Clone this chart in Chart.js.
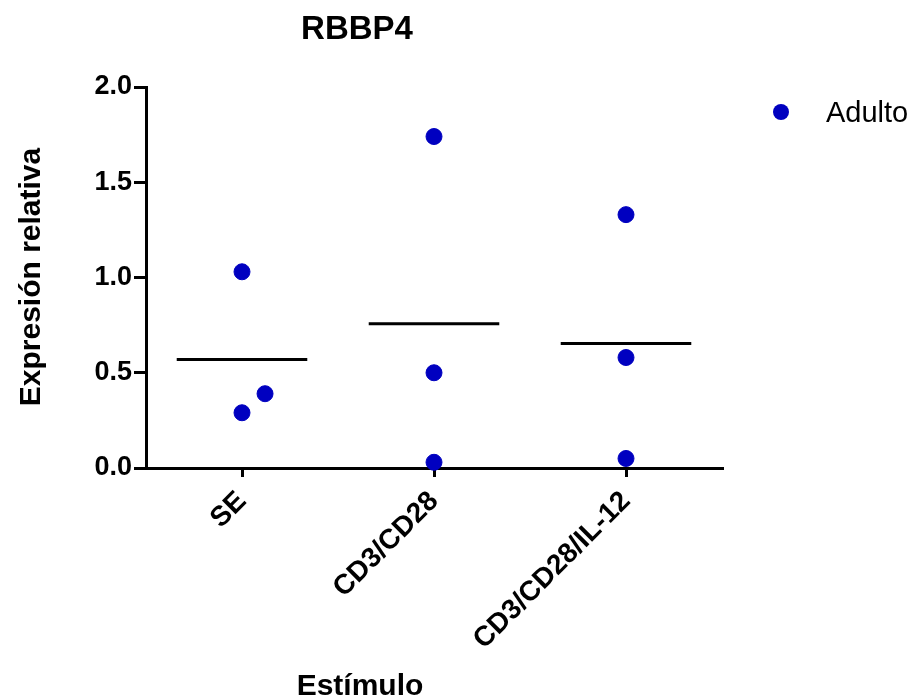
<!DOCTYPE html>
<html>
<head>
<meta charset="utf-8">
<script src="https://cdn.jsdelivr.net/npm/chart.js@4/dist/chart.umd.min.js"></script>
<style>
  html, body { margin: 0; padding: 0; background: #fff; }
  #wrap { width: 911px; height: 700px; }
</style>
</head>
<body>
<div id="wrap"><canvas id="chartRbbp4" width="911" height="700"></canvas></div>
<script>
/* ── Data ─────────────────────────────────────────────── */
const categories = ['SE', 'CD3/CD28', 'CD3/CD28/IL-12'];
const seValues = [1.03, 0.29, 0.39];
const cd3cd28Values = [1.74, 0.50, 0.03];
const il12Values = [1.33, 0.58, 0.05];
// horizontal scatter offsets seen in the picture (in category units)
const jitter = [[0, 0, 0.12], [0, 0, 0], [0, 0, 0]];
const yTicks = [0, 0.5, 1.0, 1.5, 2.0];
const seriesLabel = 'Adulto';

const groups = [seValues, cd3cd28Values, il12Values];
const means = groups.map(g => g.reduce((a, b) => a + b, 0) / g.length);

const FONT = "'Liberation Sans', Arial, sans-serif";
const DOT = '#0000c0';

const points = [];
groups.forEach((g, i) => g.forEach((v, j) => points.push({ x: i + jitter[i][j], y: v })));

const meanLine = [];
means.forEach((m, i) => {
  meanLine.push({ x: i - 0.34, y: m }, { x: i + 0.34, y: m }, { x: i + 0.5, y: NaN });
});

/* ── Titles + legend drawn by hand ───────────────────── */
const textPlugin = {
  id: 'textPlugin',
  afterDraw(chart) {
    const c = chart.ctx;
    c.save();
    c.fillStyle = '#000';
    c.textAlign = 'center';
    c.textBaseline = 'alphabetic';
    c.font = `bold 33px ${FONT}`;
    c.fillText('RBBP4', 357, 39);

    c.font = `bold 30px ${FONT}`;
    c.fillText('Estímulo', 360, 695);

    c.translate(40, 277);
    c.rotate(-Math.PI / 2);
    c.fillText('Expresión relativa', 0, 0);
    c.restore();

    // legend
    c.save();
    c.fillStyle = DOT;
    c.beginPath();
    c.arc(781, 112, 8, 0, Math.PI * 2);
    c.fill();
    c.fillStyle = '#000';
    c.font = `29px ${FONT}`;
    c.textAlign = 'left';
    c.textBaseline = 'alphabetic';
    c.fillText(seriesLabel, 826, 122);
    c.restore();
  },
};

new Chart(document.getElementById('chartRbbp4'), {
  type: 'scatter',
  data: {
    datasets: [
      {
        label: seriesLabel,
        data: points,
        backgroundColor: DOT,
        borderColor: DOT,
        pointRadius: 8,
        pointHoverRadius: 8,
        clip: false,
      },
      {
        type: 'line',
        label: 'mean',
        data: meanLine,
        borderColor: '#000',
        borderWidth: 3,
        pointRadius: 0,
        spanGaps: false,
        fill: false,
      },
    ],
  },
  options: {
    responsive: false,
    animation: false,
    layout: { padding: { top: 87, right: 189, left: 0, bottom: 0 } },
    plugins: { legend: { display: false }, tooltip: { enabled: false } },
    scales: {
      x: {
        type: 'linear',
        min: -0.5,
        max: 2.5,
        afterBuildTicks: (s) => { s.ticks = categories.map((_, i) => ({ value: i })); },
        afterFit: (s) => { s.height = 232; },
        ticks: {
          color: '#000',
          font: { family: FONT, size: 28, weight: 'bold' },
          minRotation: 45,
          maxRotation: 45,
          padding: 8,
          callback: (v) => categories[v],
        },
        grid: { display: true, drawOnChartArea: false, drawTicks: true, tickLength: 9, color: '#000', lineWidth: 3 },
        border: { display: true, color: '#000', width: 3 },
      },
      y: {
        min: 0,
        max: 2,
        afterBuildTicks: (s) => { s.ticks = yTicks.map(v => ({ value: v })); },
        afterFit: (s) => { s.width = 146; },
        ticks: {
          color: '#000',
          font: { family: FONT, size: 27, weight: 'bold' },
          padding: 2,
          callback: (v) => v.toFixed(1),
        },
        grid: { display: true, drawOnChartArea: false, drawTicks: true, tickLength: 12, color: '#000', lineWidth: 3 },
        border: { display: true, color: '#000', width: 3 },
      },
    },
  },
  plugins: [textPlugin],
});
</script>
</body>
</html>
